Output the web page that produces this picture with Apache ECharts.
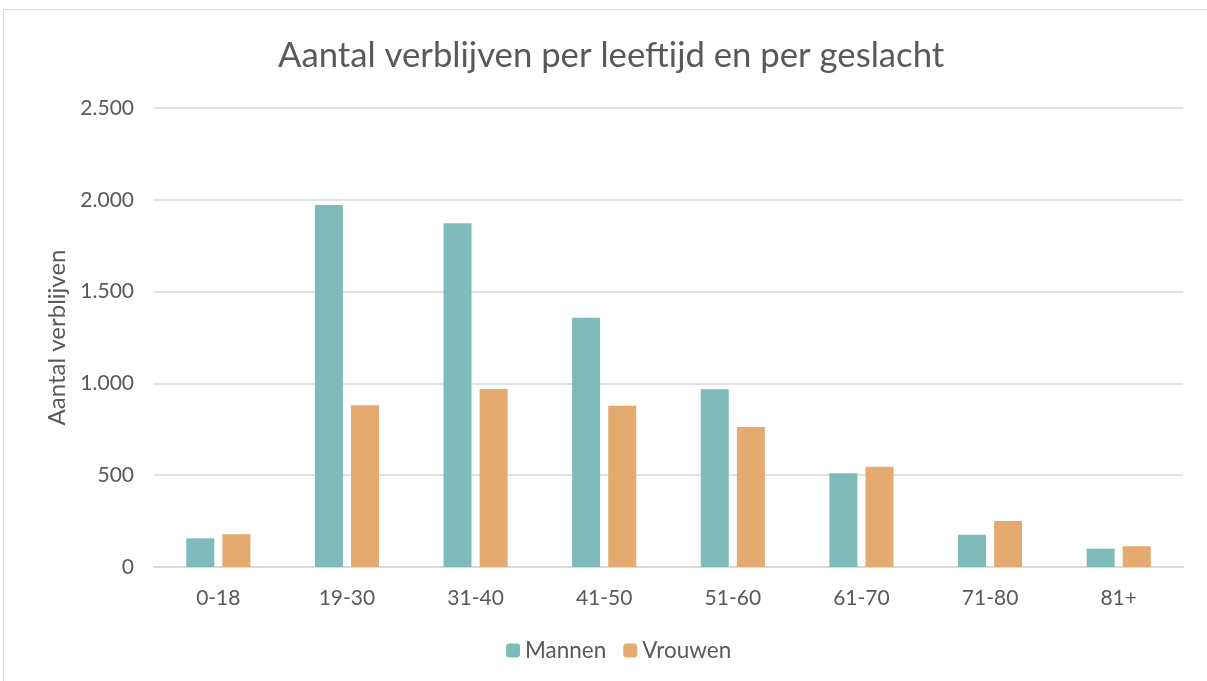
<!DOCTYPE html>
<html>
<head>
<meta charset="utf-8">
<script src="https://cdn.jsdelivr.net/npm/echarts@6/dist/echarts.min.js"></script>
<style>
  html, body { margin: 0; padding: 0; background: #fff; overflow: hidden; }
  #frame { position: absolute; left: 3px; top: 9px; width: 1230px; height: 700px; border: 1px solid #d9d9d9; }
  #chart { position: absolute; left: 0; top: 0; width: 1207px; height: 681px; }
</style>
</head>
<body>
<div id="frame"></div>
<div id="chart"></div>
<script>
// data
var categories = ["0-18", "19-30", "31-40", "41-50", "51-60", "61-70", "71-80", "81+"];
var mannen = [156, 1972, 1872, 1357, 968, 510, 176, 100];
var vrouwen = [178, 881, 970, 878, 762, 546, 250, 113];
var yTicks = { min: 0, max: 2500, interval: 500 };

var chart = echarts.init(document.getElementById("chart"));

function fmt(v) {
  return String(v).replace(/\B(?=(\d{3})+(?!\d))/g, ".");
}

var option = {
  backgroundColor: "transparent",
  title: {
    text: "Aantal verblijven per leeftijd en per geslacht",
    left: 273,
    top: 33,
    textStyle: { fontFamily: "Lato", fontSize: 34.7, fontWeight: "normal", color: "#595959" }
  },
  legend: {
    bottom: 14,
    left: 501,
    itemWidth: 14,
    itemHeight: 14,
    itemGap: 17,
    textStyle: { fontFamily: "Lato", fontSize: 22.5, color: "#595959" },
    data: ["Mannen", "Vrouwen"]
  },
  grid: { left: 154, right: 24, top: 108, bottom: 114 },
  xAxis: {
    type: "category",
    data: categories,
    axisLine: { lineStyle: { color: "#d9d9d9", width: 2 } },
    axisTick: { show: false },
    axisLabel: { margin: 21, fontFamily: "Lato", fontSize: 21, color: "#595959" }
  },
  yAxis: {
    type: "value",
    min: yTicks.min,
    max: yTicks.max,
    interval: yTicks.interval,
    name: "Aantal verblijven",
    nameLocation: "middle",
    nameGap: 85,
    nameTextStyle: { fontFamily: "Lato", fontSize: 24, color: "#595959" },
    axisLine: { show: false },
    axisTick: { show: false },
    splitLine: { lineStyle: { color: "#d9d9d9", width: 1.5 } },
    axisLabel: { margin: 20, fontFamily: "Lato", fontSize: 21, color: "#595959", formatter: fmt }
  },
  series: [
    {
      name: "Mannen",
      type: "bar",
      data: mannen,
      barWidth: 28,
      barGap: "29%",
      itemStyle: { color: "#7fbbbb" }
    },
    {
      name: "Vrouwen",
      type: "bar",
      data: vrouwen,
      barWidth: 28,
      itemStyle: { color: "#e4aa70" }
    }
  ]
};

chart.setOption(option);
</script>
</body>
</html>
